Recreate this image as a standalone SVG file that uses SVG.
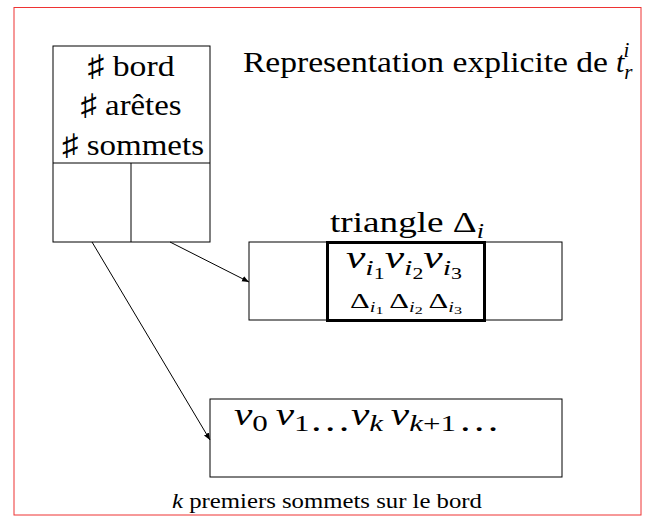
<svg xmlns="http://www.w3.org/2000/svg" width="649" height="517" viewBox="0 0 649 517">
<defs>
<style>
.box{fill:none;stroke:#000;stroke-width:1}
.f{font-family:'Liberation Serif','Times New Roman','DejaVu Serif','Noto Serif',serif}
.m{font-style:italic}
.c{stroke:#000;stroke-width:1;fill:none;marker-end:url(#ah)}
</style>
<marker id="ah" viewBox="0 0 10 10" refX="10" refY="5" markerWidth="7" markerHeight="7" orient="auto" markerUnits="userSpaceOnUse">
<path d="M0,1 L10,5 L0,9 Z" fill="#000"/>
</marker>
</defs>
<rect width="649" height="517" fill="#fff"/>
<rect x="14" y="7.5" width="627" height="507.5" fill="none" stroke="#e33" stroke-width="1"/>
<g class="f" fill="#000">
<g id="title">
<text x="243" y="72" font-size="30" textLength="365" lengthAdjust="spacingAndGlyphs">Representation explicite de</text>
<text class="m" x="616" y="72" font-size="30">t<tspan font-size="21" dy="7">r</tspan><tspan font-size="21" dx="-9" dy="-22">i</tspan></text>
</g>
<g id="header">
<rect class="box" x="53" y="46" width="157" height="196"/>
<line class="box" x1="53" y1="163" x2="210" y2="163"/>
<line class="box" x1="131" y1="163" x2="131" y2="242"/>
<text x="131" y="76" font-size="30" text-anchor="middle" textLength="87" lengthAdjust="spacingAndGlyphs">♯ bord</text>
<text x="131" y="115" font-size="30" text-anchor="middle" textLength="101" lengthAdjust="spacingAndGlyphs">♯ arêtes</text>
<text x="133" y="155" font-size="30" text-anchor="middle" textLength="142" lengthAdjust="spacingAndGlyphs">♯ sommets</text>
</g>
<g id="triangles">
<rect class="box" x="249" y="242" width="313" height="78"/>
<rect x="327.5" y="242.5" width="157" height="78" fill="none" stroke="#000" stroke-width="3"/>
<text x="330" y="232" font-size="30" textLength="154" lengthAdjust="spacingAndGlyphs">triangle Δ<tspan class="m" font-size="21" dy="6">i</tspan></text>
<text class="m" x="346" y="268" font-size="32" textLength="116" lengthAdjust="spacingAndGlyphs">v<tspan font-size="22" dy="7">i</tspan><tspan font-size="16" font-style="normal" dy="4">1</tspan><tspan dy="-11">v</tspan><tspan font-size="22" dy="7">i</tspan><tspan font-size="16" font-style="normal" dy="4">2</tspan><tspan dy="-11">v</tspan><tspan font-size="22" dy="7">i</tspan><tspan font-size="16" font-style="normal" dy="4">3</tspan></text>
<text x="350" y="308" font-size="21" textLength="112" lengthAdjust="spacingAndGlyphs">Δ<tspan class="m" font-size="14" dy="4">i</tspan><tspan font-size="11" dy="2">1</tspan><tspan dx="4" dy="-6">Δ</tspan><tspan class="m" font-size="14" dy="4">i</tspan><tspan font-size="11" dy="2">2</tspan><tspan dx="4" dy="-6">Δ</tspan><tspan class="m" font-size="14" dy="4">i</tspan><tspan font-size="11" dy="2">3</tspan></text>
</g>
<g id="vertices">
<rect class="box" x="210" y="399" width="352" height="78"/>
<text class="m" x="234" y="425" font-size="32" textLength="266" lengthAdjust="spacingAndGlyphs">v<tspan font-style="normal" font-size="24" dy="6">0</tspan><tspan dx="6" dy="-6">v</tspan><tspan font-style="normal" font-size="24" dy="6">1</tspan><tspan font-style="normal">…</tspan><tspan dy="-6">v</tspan><tspan font-size="24" dy="6">k</tspan><tspan dx="6" dy="-6">v</tspan><tspan font-size="24" dy="6">k</tspan><tspan font-style="normal" font-size="24">+1</tspan><tspan font-style="normal" dx="2">…</tspan></text>
</g>
<g id="caption">
<text x="172" y="508" font-size="21" textLength="310" lengthAdjust="spacingAndGlyphs"><tspan font-style="italic">k</tspan> premiers sommets sur le bord</text>
</g>
</g>
<g id="connectors">
<line class="c" x1="170" y1="242" x2="249" y2="282"/>
<line class="c" x1="92" y1="242" x2="210" y2="440"/>
</g>
</svg>
